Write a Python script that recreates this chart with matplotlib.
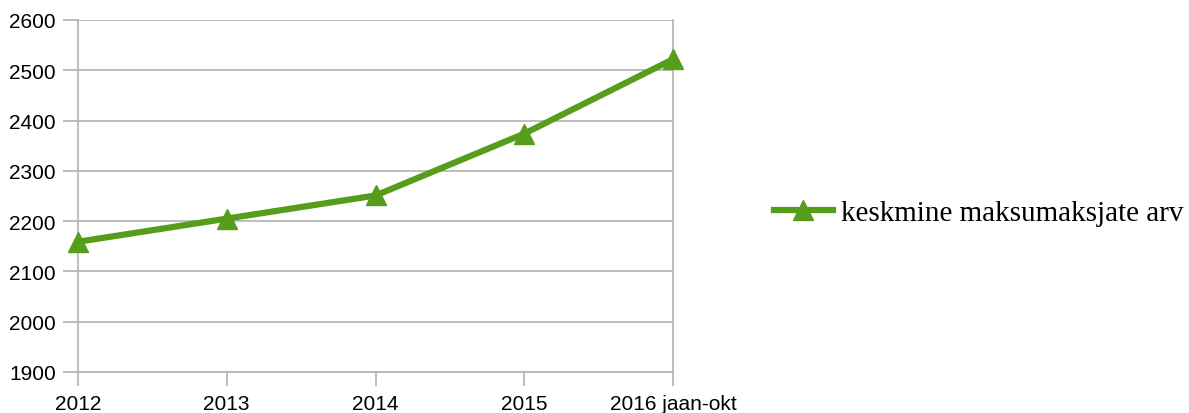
import matplotlib.pyplot as plt
from matplotlib.lines import Line2D

categories = ['2012', '2013', '2014', '2015', '2016 jaan-okt']
values = [2159, 2205, 2251, 2374, 2522]
series_name = 'keskmine maksumaksjate arv'

green = '#579d1c'
grid_gray = '#b3b3b3'

fig = plt.figure(figsize=(11.89, 4.14), dpi=100)
ax = fig.add_axes([78 / 1189, 1 - 373 / 414, (673 - 78) / 1189, (373 - 21) / 414])

x = list(range(len(categories)))
ax.plot(x, values, color=green, linewidth=4.5, marker='^', markersize=15,
        markerfacecolor=green, markeredgecolor=green, clip_on=False, zorder=3)

ax.set_xlim(0, len(categories) - 1)
ax.set_ylim(1900, 2600)
ax.set_yticks(range(1900, 2601, 100))
ax.set_xticks(x)
ax.set_xticklabels(categories)

ax.yaxis.grid(True, color=grid_gray, linewidth=1.2)
ax.set_axisbelow(True)
for side in ['left', 'right', 'bottom']:
    ax.spines[side].set_color(grid_gray)
    ax.spines[side].set_linewidth(1.2)
ax.spines['top'].set_visible(False)

ax.tick_params(axis='y', length=11, width=1.2, color=grid_gray, pad=5,
               labelsize=15, labelcolor='black')
ax.tick_params(axis='x', length=10, width=1.2, color=grid_gray, pad=6,
               labelsize=15, labelcolor='black')
for lbl in ax.get_xticklabels() + ax.get_yticklabels():
    lbl.set_fontfamily('Liberation Sans')

handle = Line2D([], [], color=green, linewidth=4.5, marker='^', markersize=15,
                markerfacecolor=green, markeredgecolor=green)
fig.legend([handle], [series_name], loc='center left',
           bbox_to_anchor=(748 / 1189, 1 - 214 / 414), frameon=False,
           prop={'family': 'Liberation Serif', 'size': 21},
           handlelength=2.0, handletextpad=0.3)

fig.savefig('out.png', dpi=100)
